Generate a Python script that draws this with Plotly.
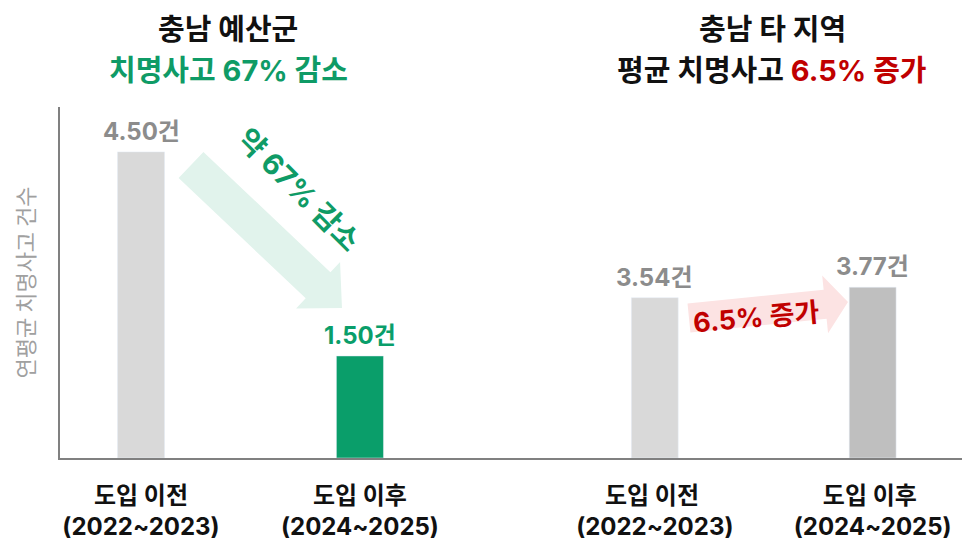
import math
import plotly.graph_objects as go

FONT = "Inter, 'Noto Sans CJK KR'"
FONT_KR = "'Noto Sans CJK KR'"

# data
left_cats = ["도입 이전<br>(2022~2023)", "도입 이후<br>(2024~2025)"]
left_vals = [4.50, 1.50]
right_cats = ["도입 이전 <br>(2022~2023)", "도입 이후 <br>(2024~2025)"]
right_vals = [3.54, 3.77]
left_colors = ["#d9d9d9", "#0a9e6a"]
right_colors = ["#d9d9d9", "#bfbfbf"]
label_colors_left = ["#8c8c8c", "#0a9e6a"]
label_colors_right = ["#8c8c8c", "#8c8c8c"]

GREEN = "#0f9b66"
RED = "#c00000"

# page has an 8px body margin, so the figure is 8px smaller than the window
OFF = 8
W, H = 970 - OFF, 552 - OFF
ML, MR, MT, MB = 60 - OFF, 8, 107 - OFF, 94
PW, PH = W - ML - MR, H - MT - MB


def px(x, y):
    # window pixel -> paper coordinate
    return (x - OFF - ML) / PW, (H - MB - (y - OFF)) / PH


def arrow_path(x0, y0, x1, y1, half_w, head_half, head_len):
    # block arrow polygon from window pixels, as a paper-coordinate path
    dx, dy = x1 - x0, y1 - y0
    L = math.hypot(dx, dy)
    ux, uy = dx / L, dy / L
    nx, ny = -uy, ux
    bx, by = x1 - ux * head_len, y1 - uy * head_len
    pts = [
        (x0 + nx * half_w, y0 + ny * half_w),
        (bx + nx * half_w, by + ny * half_w),
        (bx + nx * head_half, by + ny * head_half),
        (x1, y1),
        (bx - nx * head_half, by - ny * head_half),
        (bx - nx * half_w, by - ny * half_w),
        (x0 - nx * half_w, y0 - ny * half_w),
    ]
    pp = [px(a, b) for a, b in pts]
    return "M " + " L ".join(f"{a:.4f},{b:.4f}" for a, b in pp) + " Z"


def note(x, y, text, size, color, angle=0, family=FONT):
    tx, ty = px(x, y)
    return dict(x=tx, y=ty, xref="paper", yref="paper", showarrow=False,
                xanchor="center", yanchor="middle", text=text, textangle=angle,
                font=dict(family=family, size=size, color=color))


fig = go.Figure()
fig.add_trace(go.Bar(x=left_cats, y=left_vals, marker_color=left_colors,
                     width=0.215, xaxis="x", yaxis="y", hoverinfo="skip"))
fig.add_trace(go.Bar(x=right_cats, y=right_vals, marker_color=right_colors,
                     width=0.215, xaxis="x2", yaxis="y2", hoverinfo="skip"))

annotations = []
for c, v, col in zip(left_cats, left_vals, label_colors_left):
    annotations.append(dict(x=c, y=v, xref="x", yref="y", text=f"<b>{v:.2f}건</b>",
                            showarrow=False, yanchor="bottom", yshift=4,
                            font=dict(family=FONT, size=24, color=col)))
for c, v, col in zip(right_cats, right_vals, label_colors_right):
    annotations.append(dict(x=c, y=v, xref="x2", yref="y2", text=f"<b>{v:.2f}건</b>",
                            showarrow=False, yanchor="bottom", yshift=4,
                            font=dict(family=FONT, size=24, color=col)))

# titles
annotations.append(note(228, 30, "<b>충남 예산군</b>", 29, "#111111"))
annotations.append(note(228, 70, "<b>치명사고 67% 감소</b>", 29, GREEN))
annotations.append(note(772, 30, "<b>충남 타 지역</b>", 29, "#111111"))
annotations.append(note(772, 70, f"<b>평균 치명사고 <span style='color:{RED}'>6.5% 증가</span></b>",
                        29, "#111111"))

# arrow labels
annotations.append(note(299, 189, "<b>약 67% 감소</b>", 29, GREEN, 45))
annotations.append(note(756, 317, "<b>6.5% 증가</b>", 27, RED, -5))

shapes = [
    dict(type="path", xref="paper", yref="paper", layer="below", line_width=0,
         fillcolor="#e1f3ec", path=arrow_path(191, 165, 342, 308, 18, 32, 33)),
    dict(type="path", xref="paper", yref="paper", layer="below", line_width=0,
         fillcolor="#fce3e3", path=arrow_path(689, 318, 848, 302, 14.5, 29, 23)),
]

split = 0.5
tick_font = dict(family=FONT, size=24, color="#111111")
fig.update_layout(
    width=W, height=H,
    margin=dict(l=ML, r=MR, t=MT, b=MB),
    paper_bgcolor="white", plot_bgcolor="white",
    showlegend=False,
    xaxis=dict(domain=[0, split], range=[-0.37, 1.69], showline=True, linecolor="#808080",
               linewidth=2, showgrid=False, zeroline=False, ticks="", tickfont=tick_font,
               ticklabelstandoff=15, fixedrange=True,
               tickvals=left_cats, ticktext=[f"<b>{t}</b>" for t in left_cats]),
    xaxis2=dict(domain=[split, 1], range=[-0.66, 1.41], showline=True, linecolor="#808080",
                linewidth=2, showgrid=False, zeroline=False, ticks="", tickfont=tick_font,
                ticklabelstandoff=15, anchor="y2", fixedrange=True,
                tickvals=right_cats, ticktext=[f"<b>{t}</b>" for t in right_cats]),
    yaxis=dict(range=[0, 5.16], showline=True, linecolor="#808080", linewidth=2,
               showgrid=False, zeroline=False, showticklabels=False, ticks="", fixedrange=True,
               title=dict(text="연평균 치명사고 건수", standoff=18,
                          font=dict(family=FONT_KR, size=22, color="#a0a0a0")),
               automargin=False),
    yaxis2=dict(range=[0, 7.75], anchor="x2", showline=False, showgrid=False,
                zeroline=False, showticklabels=False, ticks="", fixedrange=True),
    annotations=annotations,
    shapes=shapes,
)

fig.write_html("out.html")
